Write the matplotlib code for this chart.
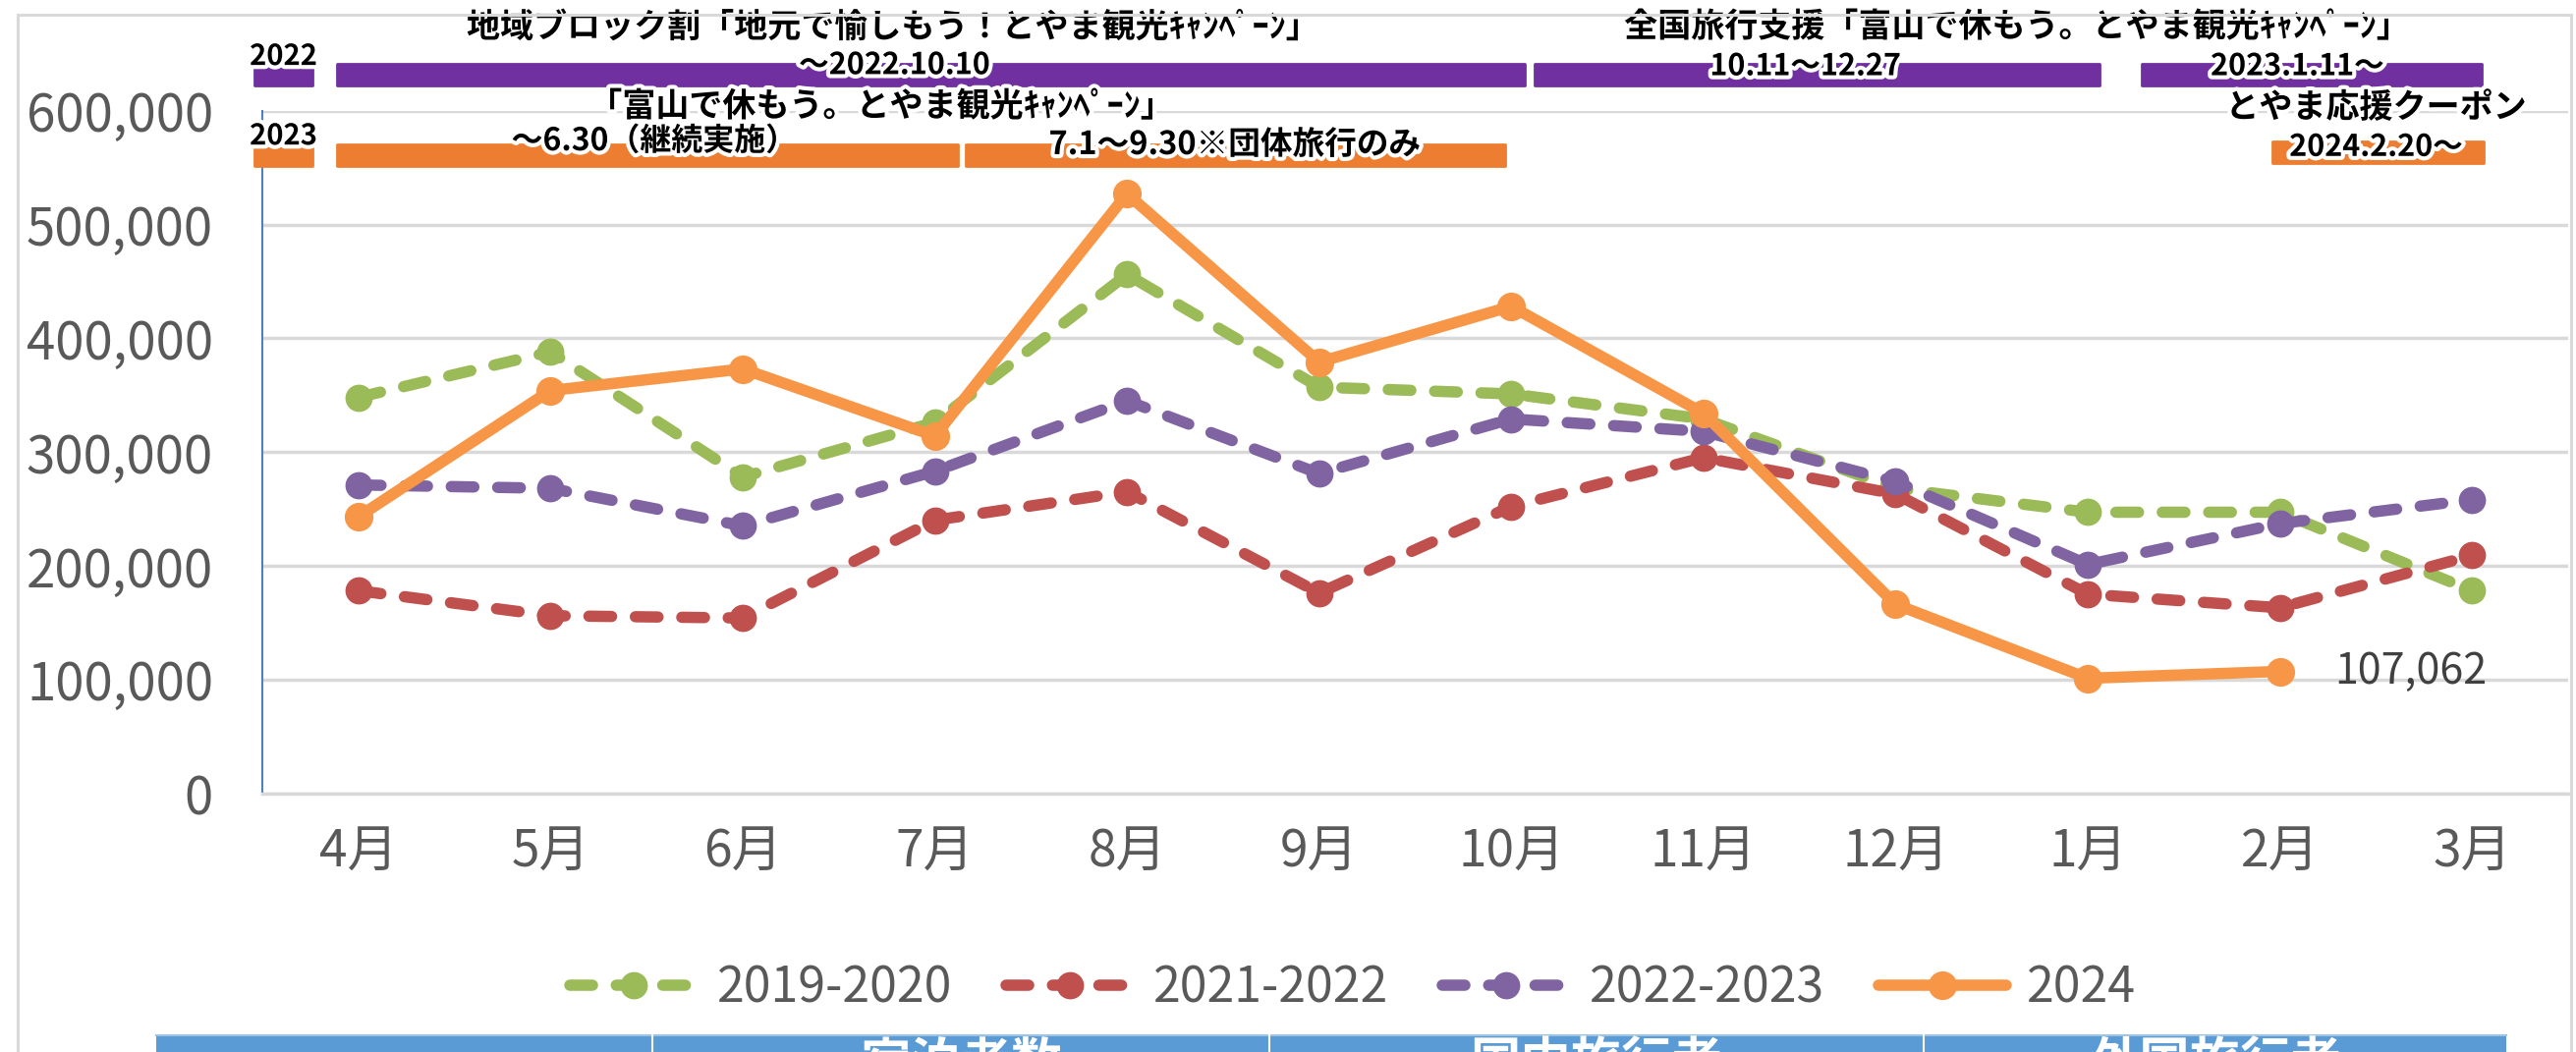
import numpy as np
import matplotlib.pyplot as plt
import matplotlib.patheffects as pe
from matplotlib.patches import Rectangle
from matplotlib.lines import Line2D

plt.rcParams['font.family'] = ['Noto Sans CJK JP', 'DejaVu Sans']

# data
months = ['4月', '5月', '6月', '7月', '8月', '9月', '10月', '11月', '12月', '1月', '2月', '3月']
v2019 = [348000, 388000, 278000, 326000, 456000, 357000, 351000, 329000, 268000, 247000, 247000, 178000]
v2021 = [178000, 156000, 154000, 240000, 265000, 176000, 252000, 295000, 263000, 175000, 163000, 209000]
v2022 = [271000, 268000, 235000, 283000, 345000, 281000, 329000, 318000, 274000, 201000, 237000, 258000]
v2024 = [243000, 354000, 373000, 314000, 527000, 379000, 428000, 334000, 166000, 101000, 107062, np.nan]
series_names = ['2019-2020', '2021-2022', '2022-2023', '2024']
yticks = [0, 100000, 200000, 300000, 400000, 500000, 600000]
table_headers = ['宿泊者数', '国内旅行者', '外国旅行者']

W, H = 2622, 1071
fig = plt.figure(figsize=(W / 100, H / 100), dpi=100)
ax = fig.add_axes([267 / W, 1 - 807.5 / H, (2614 - 267) / W, (807.5 - 112.7) / H])

x = np.arange(len(months))
lw = 8.3
dash = (0, (2.0, 2.1))
ax.plot(x, v2019, color='#9BBB59', lw=lw, ls=dash, dash_capstyle='round',
        marker='o', ms=19, label=series_names[0])
ax.plot(x, v2021, color='#C0504D', lw=lw, ls=dash, dash_capstyle='round',
        marker='o', ms=19, label=series_names[1])
ax.plot(x, v2022, color='#8064A2', lw=lw, ls=dash, dash_capstyle='round',
        marker='o', ms=19, label=series_names[2])
ax.plot(x, v2024, color='#F79646', lw=lw, solid_capstyle='round', solid_joinstyle='round',
        marker='o', ms=20, label=series_names[3])

# label on the last 2024 point
last = int(np.nanargmax(np.where(np.isnan(v2024), -1, x)))
ax.annotate(f'{int(v2024[last]):,}', (x[last], v2024[last]), xytext=(40, 0),
            textcoords='offset points', ha='left', va='center', fontsize=31, color='#404040')

ax.set_xlim(-0.5, 11.5)
ax.set_ylim(0, 600000)
ax.set_xticks(x)
ax.set_xticklabels(months)
ax.set_yticks(yticks)
ax.set_yticklabels([f'{v:,}' for v in yticks])
ax.tick_params(axis='y', length=0, pad=36, labelsize=38, labelcolor='#595959')
ax.tick_params(axis='x', length=0, pad=24, labelsize=37, labelcolor='#595959')
ax.yaxis.grid(True, color='#d9d9d9', lw=2.5)
ax.set_axisbelow(True)
for s in ['top', 'right']:
    ax.spines[s].set_visible(False)
ax.spines['bottom'].set_color('#d9d9d9')
ax.spines['bottom'].set_linewidth(2.5)
ax.spines['left'].set_color('#4f81bd')
ax.spines['left'].set_linewidth(1.5)

# campaign bars above the plot (x in month units, y in value units)
purple, orange = '#7030A0', '#ED7D31'
row1 = (622000, 641000)
row2 = (551000, 570000)
bars = [(-0.54, -0.24, row1, purple), (-0.11, 6.07, row1, purple),
        (6.12, 9.06, row1, purple), (9.28, 11.05, row1, purple),
        (-0.54, -0.24, row2, orange), (-0.11, 3.12, row2, orange),
        (3.16, 5.97, row2, orange), (9.96, 11.06, (554000, 573000), orange)]
for x0, x1, (y0, y1), c in bars:
    ax.add_patch(Rectangle((x0, y0), x1 - x0, y1 - y0, facecolor=c, edgecolor=c,
                           lw=2, joinstyle='round', clip_on=False, zorder=5))

glow = [pe.withStroke(linewidth=6, foreground='white')]
labels = [
    (-0.39, 648000, '2022', 21),
    (2.78, 673500, '地域ブロック割「地元で愉しもう！とやま観光ｷｬﾝﾍﾟｰﾝ」', 24.5),
    (2.79, 640000, '～2022.10.10', 22),
    (8.63, 674000, '全国旅行支援「富山で休もう。とやま観光ｷｬﾝﾍﾟｰﾝ」', 24.5),
    (7.53, 639000, '10.11～12.27', 22),
    (10.09, 639000, '2023.1.11～', 22),
    (-0.39, 578000, '2023', 21),
    (2.72, 604000, '「富山で休もう。とやま観光ｷｬﾝﾍﾟｰﾝ」', 24.5),
    (1.54, 573000, '～6.30（継続実施）', 23),
    (4.56, 570000, '7.1～9.30※団体旅行のみ', 23.5),
    (10.5, 603000, 'とやま応援クーポン', 24.5),
    (10.5, 568000, '2024.2.20～', 22),
]
for tx, ty, t, fs in labels:
    ax.text(tx, ty, t, ha='center', va='center', fontsize=fs, fontweight='bold',
            color='black', path_effects=glow, clip_on=False, zorder=6)

# legend
leg = fig.legend(loc='center', bbox_to_anchor=(0.525, 0.06), ncol=4, frameon=False,
                 fontsize=36, handlelength=2.6, handletextpad=0.4, columnspacing=1.1,
                 numpoints=1)
for t in leg.get_texts():
    t.set_color('#595959')

# chart border
bc = '#d9d9d9'
fig.add_artist(Line2D([18 / W, 18 / W], [0, 1 - 15 / H], color=bc, lw=2.2))
fig.add_artist(Line2D([18 / W, 2617 / W], [1 - 15 / H, 1 - 15 / H], color=bc, lw=2.2))
fig.add_artist(Line2D([2617 / W, 2617 / W], [0, 1 - 15 / H], color=bc, lw=2.2))

# table header cut off at the bottom
col_edges = [159, 664, 1292, 1958, 2551]
top = 1 - 1054 / H
fig.add_artist(Rectangle((col_edges[0] / W, 0), (col_edges[-1] - col_edges[0]) / W, top,
                         transform=fig.transFigure, facecolor='#5B9BD5', edgecolor='none'))
fig.add_artist(Line2D([col_edges[0] / W, col_edges[-1] / W], [top, top], color='#9DC3E6', lw=1.5))
for ce in col_edges[1:-1]:
    fig.add_artist(Line2D([ce / W, ce / W], [0, top], color='white', lw=1.5))
for i, t in enumerate(table_headers):
    cx = (col_edges[i + 1] + col_edges[i + 2]) / 2 / W
    fig.text(cx, 1 - 1057 / H, t, ha='center', va='top', fontsize=37,
             fontweight='bold', color='white')

fig.savefig('out.png', dpi=100)
